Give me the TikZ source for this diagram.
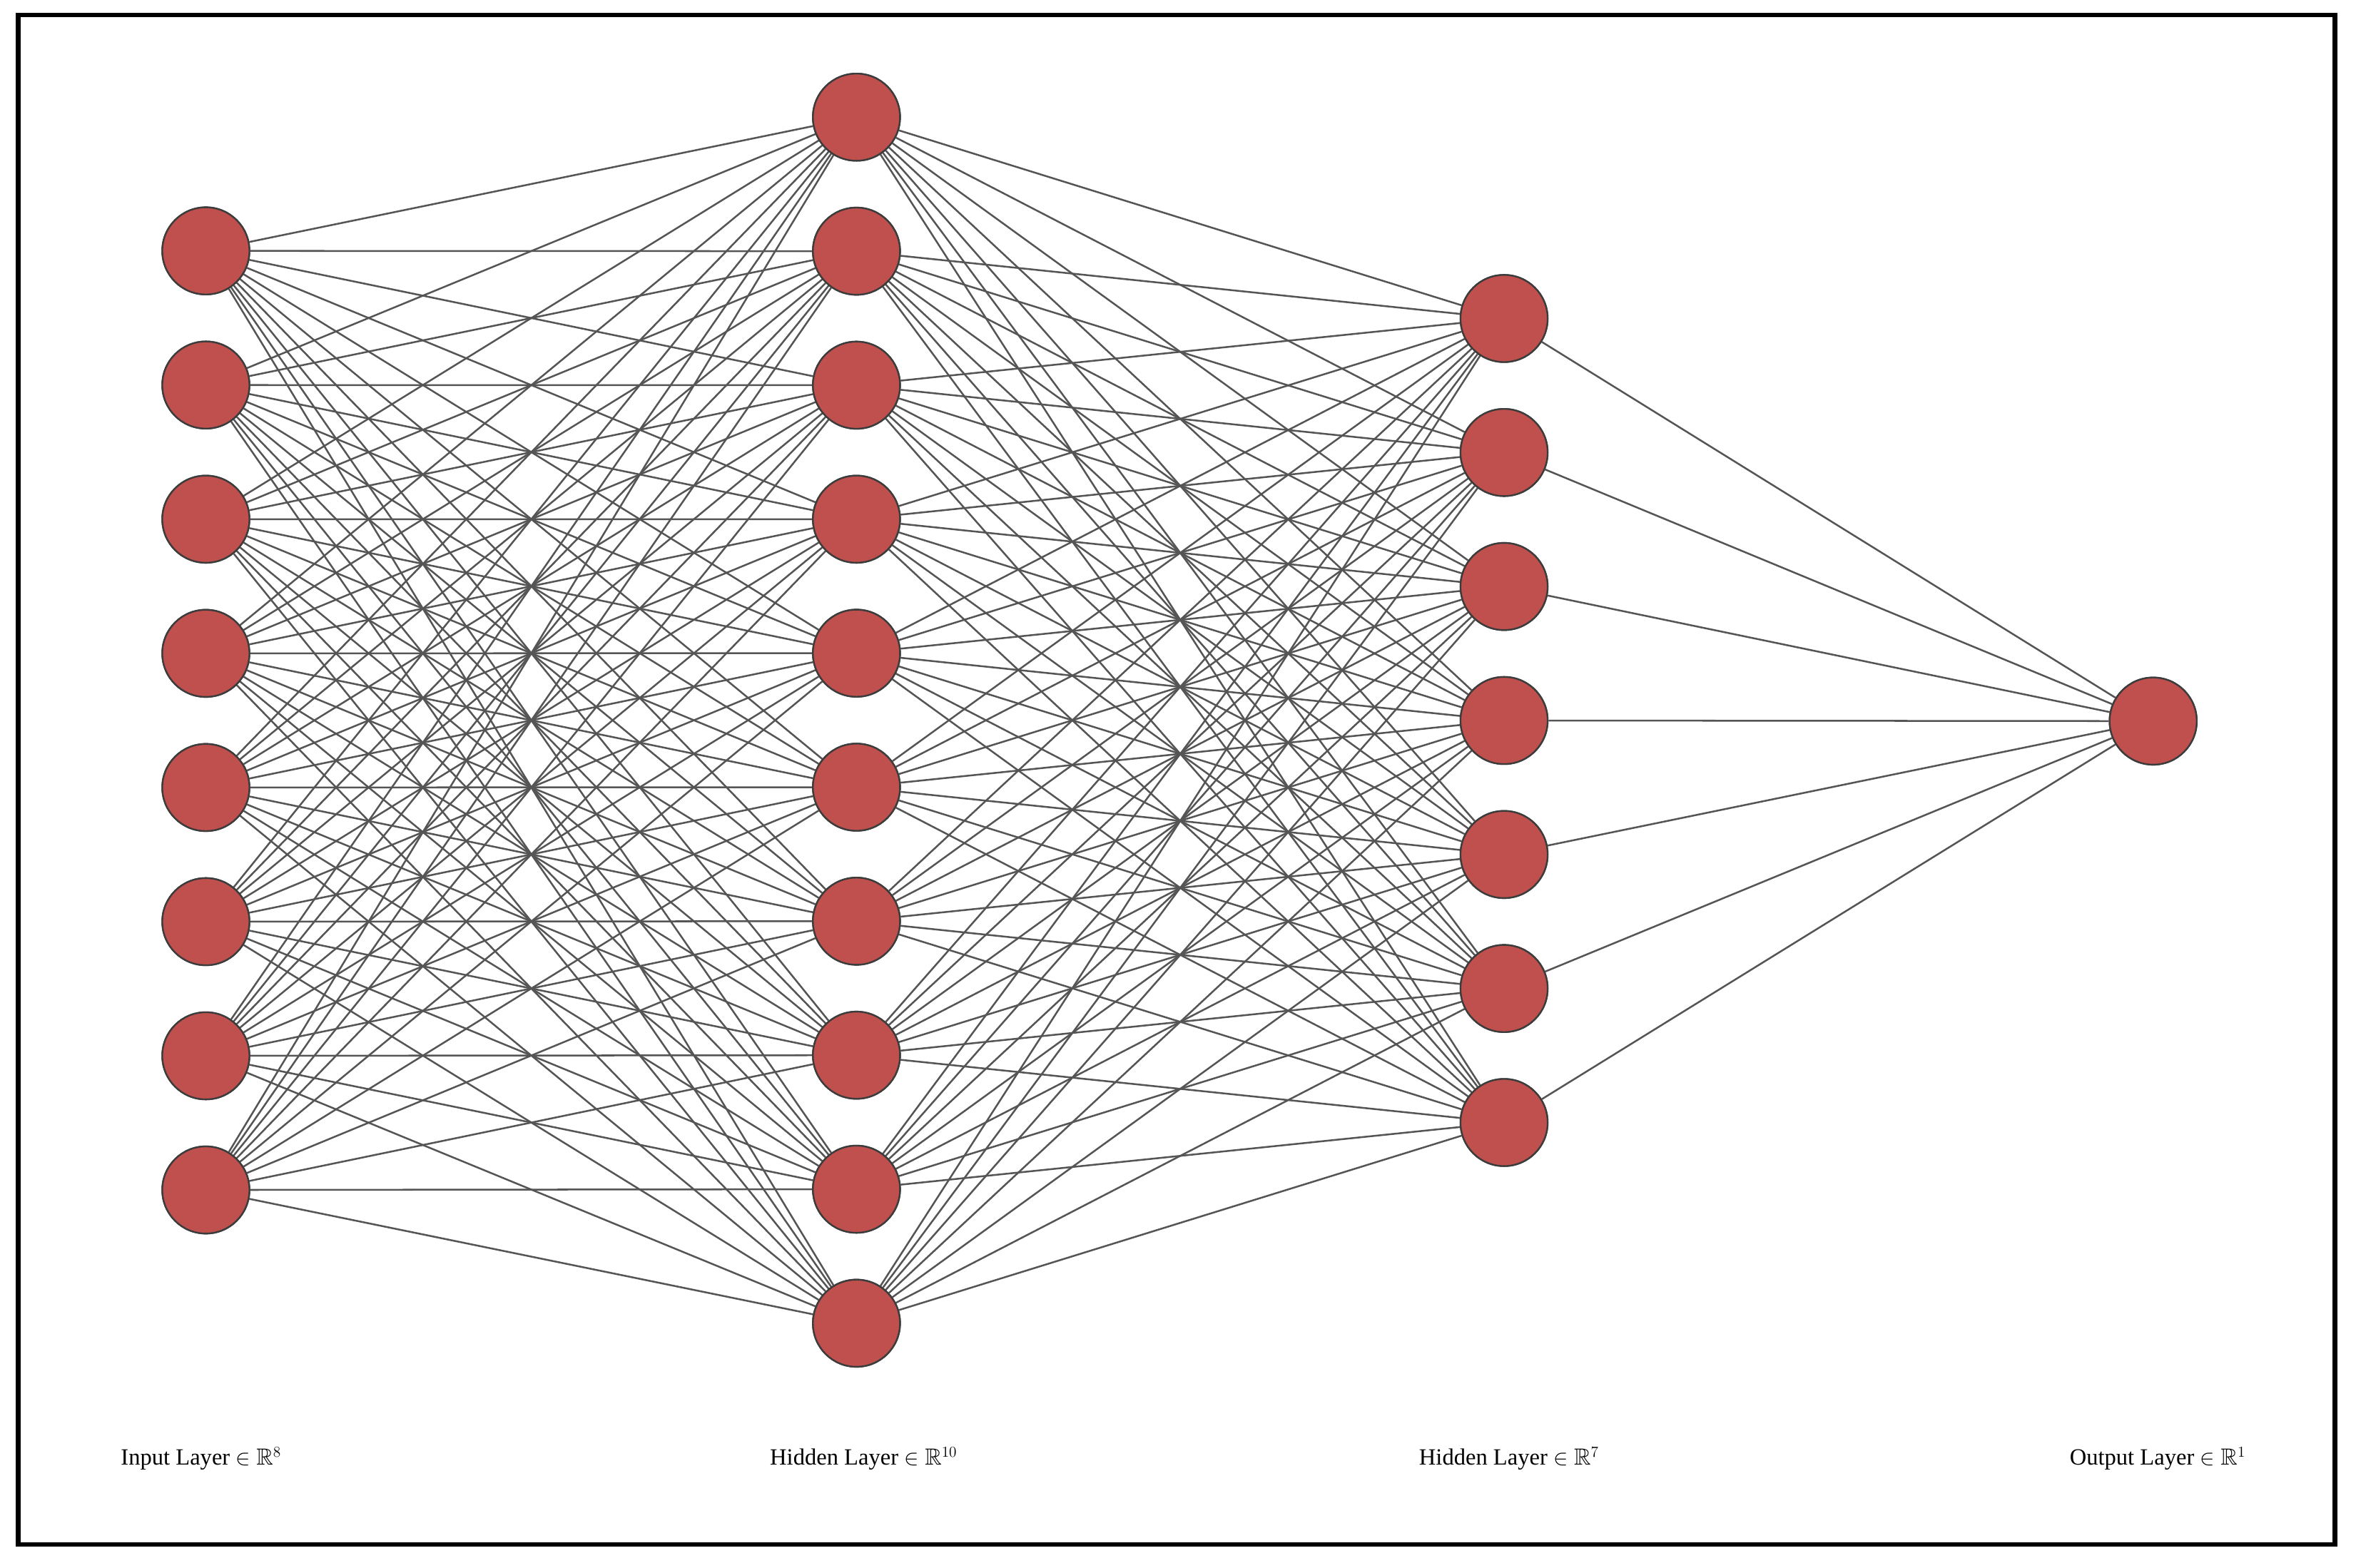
\documentclass[tikz,border=0pt]{standalone}
\usepackage{fontspec}
\usepackage{amssymb}
\setmainfont{Liberation Serif}
\begin{document}
\begin{tikzpicture}[x=0.05cm,y=-0.05cm,
  neuron/.style={circle,fill={rgb,255:red,192;green,80;blue,77},draw={rgb,255:red,60;green,60;blue,60},line width=1.6pt,minimum size=2.9cm,inner sep=0pt},
  edge/.style={draw={rgb,255:red,85;green,85;blue,85},line width=1.7pt},
  lab/.style={anchor=west,font=\fontsize{22}{26}\selectfont}]
\useasboundingbox (0,0) rectangle (1568,1043.3);
\draw[line width=4.5pt] (12,10) rectangle (1554,1028);
\foreach \i in {1,...,8} \node[neuron] (a\i) at (137,{167+(\i-1)*89.3}) {};
\foreach \i in {1,...,10} \node[neuron] (b\i) at (570,{78+(\i-1)*89.2}) {};
\foreach \i in {1,...,7} \node[neuron] (c\i) at (1001,{212+(\i-1)*89.2}) {};
\node[neuron] (d1) at (1433,480) {};
\begin{scope}[on background layer/.try]
\end{scope}
\foreach \i in {1,...,8}\foreach \j in {1,...,10} \draw[edge] (a\i) -- (b\j);
\foreach \i in {1,...,10}\foreach \j in {1,...,7} \draw[edge] (b\i) -- (c\j);
\foreach \j in {1,...,7} \draw[edge] (c\j) -- (d1);
\foreach \i in {1,...,8} \node[neuron] at (a\i) {};
\foreach \i in {1,...,10} \node[neuron] at (b\i) {};
\foreach \i in {1,...,7} \node[neuron] at (c\i) {};
\node[neuron] at (d1) {};
\node[lab] (l1) at (78,971) {Input Layer $\in\mathbb{R}^{8}$};
\node[lab] (l2) at (510,971) {Hidden Layer $\in\mathbb{R}^{10}$};
\node[lab] (l3) at (942,971) {Hidden Layer $\in\mathbb{R}^{7}$};
\node[lab] (l4) at (1375,971) {Output Layer $\in\mathbb{R}^{1}$};
\end{tikzpicture}
\end{document}
